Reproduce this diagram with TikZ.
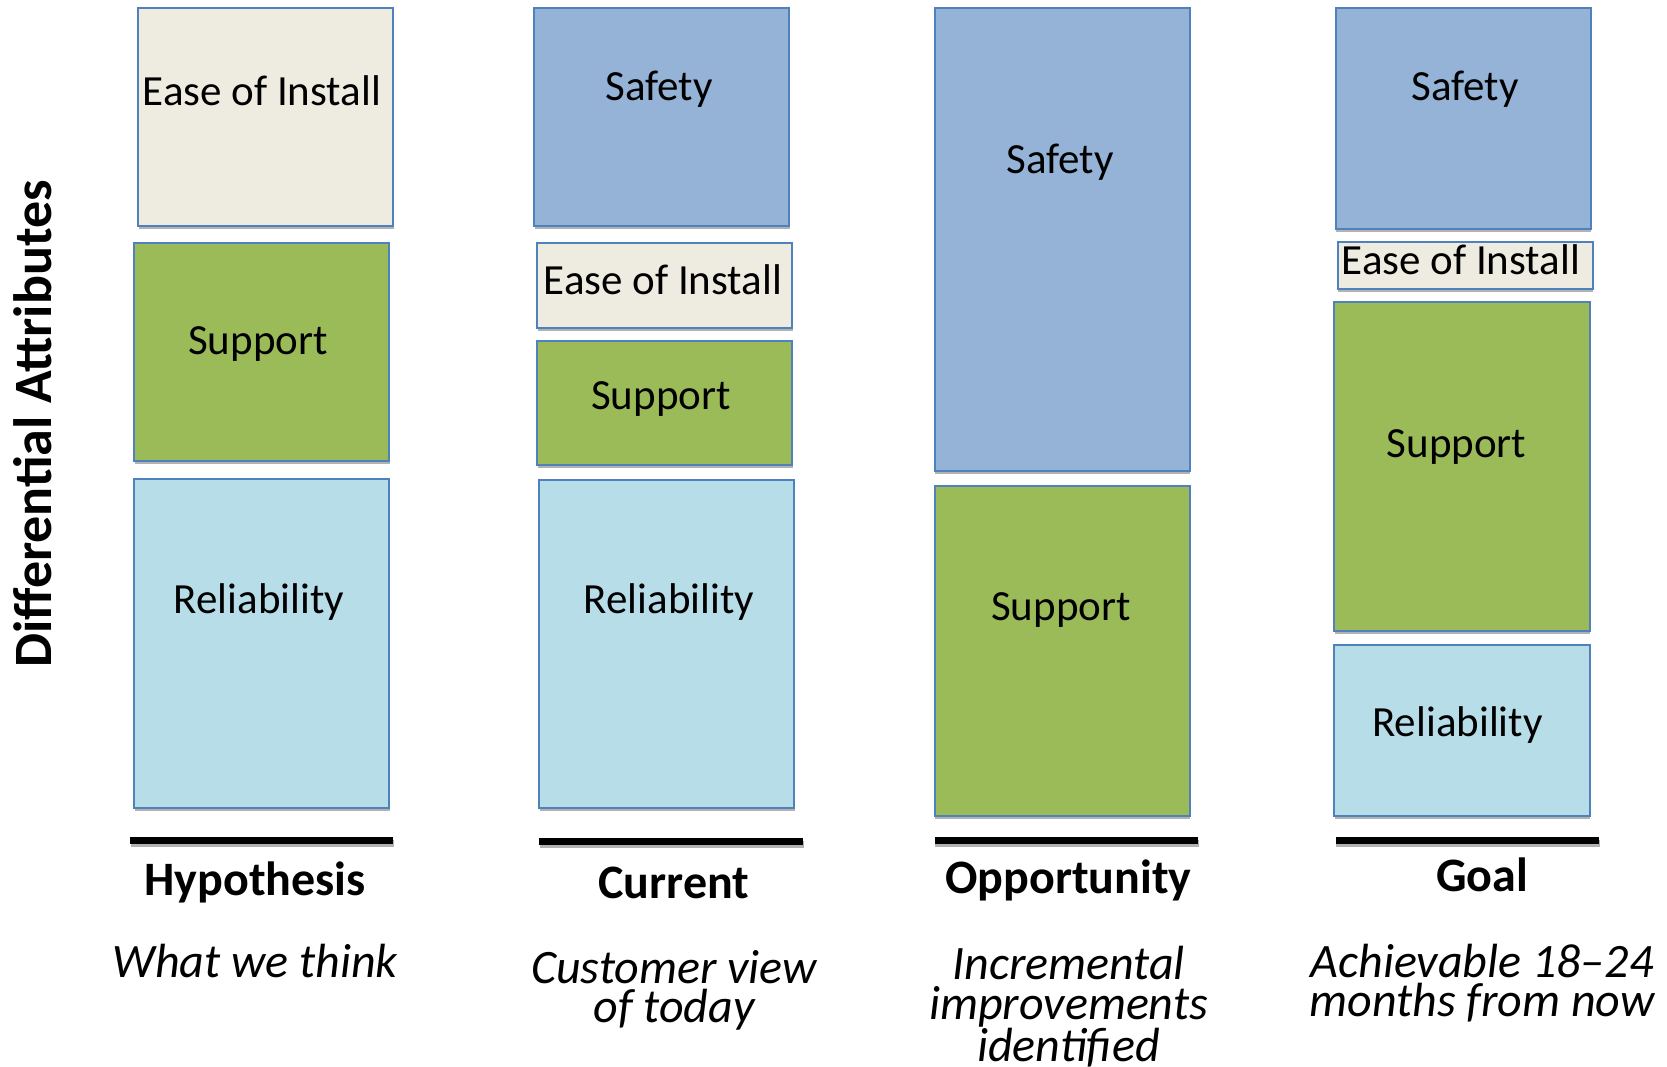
\documentclass[tikz,border=0pt]{standalone}
\usepackage{fontspec}
\setmainfont{Carlito}
\usetikzlibrary{shadows,fit}
\definecolor{edgeblue}{HTML}{4F81BD}
\definecolor{easefill}{HTML}{EEECE1}
\definecolor{safetyfill}{HTML}{95B3D7}
\definecolor{supportfill}{HTML}{9BBB59}
\definecolor{relfill}{HTML}{B7DDE8}
\begin{document}
\begin{tikzpicture}[x=1pt,y=-1pt,
  attrbox/.style={draw=edgeblue, line width=2pt, inner sep=0pt, outer sep=0pt,
    drop shadow={shadow xshift=0.5pt, shadow yshift=-3pt, opacity=0.3, fill=black}},
  ease/.style={attrbox, fill=easefill},
  safety/.style={attrbox, fill=safetyfill},
  support/.style={attrbox, fill=supportfill},
  rel/.style={attrbox, fill=relfill},
  basebar/.style={fill=black, inner sep=0pt, outer sep=0pt,
    drop shadow={shadow xshift=0.5pt, shadow yshift=-3pt, opacity=0.3, fill=black}},
  boxtext/.style={font=\fontsize{43}{50}\selectfont, anchor=base, inner sep=0pt},
  headtext/.style={font=\fontsize{48}{58}\selectfont\bfseries, anchor=base, inner sep=0pt},
  % multi-line captions: the base anchor sits on the last line
  subtext/.style={font=\fontsize{48}{39.5}\selectfont\itshape, anchor=base, inner sep=0pt, align=center},
  axistext/.style={font=\fontsize{54}{60}\selectfont\bfseries, anchor=base, inner sep=0pt, rotate=90}]
\useasboundingbox (0,0) rectangle (1667,1067);

% axis title
\node[axistext] (axis) at (51,424) {Differential Attributes};

% --- Hypothesis column ---
\node[ease, fit={(138,8.5)(393,226.5)}] (h-ease) {};
\node[support, fit={(134,243.5)(389,460.5)}] (h-sup) {};
\node[rel, fit={(134,478.5)(389,808)}] (h-rel) {};
\node[boxtext] (h-ease-t) at (262,105.5) {Ease of Install};
\node[boxtext] (h-sup-t) at (258,354) {Support};
\node[boxtext] (h-rel-t) at (259,613.5) {Reliability};
\node[basebar, fit={(130,836.7)(393,844)}] (h-bar) {};
\node[headtext] (h-head) at (255,895) {Hypothesis};
\node[subtext] (h-sub) at (255,977) {What we think};

% --- Current column ---
\node[safety, fit={(534,8.5)(789,226.5)}] (c-safe) {};
\node[ease, fit={(537,243.5)(792,327.5)}] (c-ease) {};
\node[support, fit={(537,340.5)(792,464.5)}] (c-sup) {};
\node[rel, fit={(539,479.5)(794,808)}] (c-rel) {};
\node[boxtext] (c-safe-t) at (659,101) {Safety};
\node[boxtext] (c-ease-t) at (663,294.5) {Ease of Install};
\node[boxtext] (c-sup-t) at (661,409.5) {Support};
\node[boxtext] (c-rel-t) at (669,613) {Reliability};
\node[basebar, fit={(539,837.7)(803,845)}] (c-bar) {};
\node[headtext] (c-head) at (674,898) {Current};
\node[subtext] (c-sub) at (674,1022.5) {Customer view\\of today};

% --- Opportunity column ---
\node[safety, fit={(934.5,8.5)(1189.5,471)}] (o-safe) {};
\node[support, fit={(934.5,486)(1189.5,815.5)}] (o-sup) {};
\node[boxtext] (o-safe-t) at (1060,173.5) {Safety};
\node[boxtext] (o-sup-t) at (1061,620) {Support};
\node[basebar, fit={(934.5,837)(1198,844.3)}] (o-bar) {};
\node[headtext] (o-head) at (1068.5,893) {Opportunity};
\node[subtext] (o-sub) at (1068.5,1061.5) {Incremental\\improvements\\identified};

% --- Goal column ---
\node[safety, fit={(1335.5,8.5)(1590.5,229.5)}] (g-safe) {};
\node[ease, fit={(1337.5,242.5)(1592.5,289)}] (g-ease) {};
\node[support, fit={(1334,302)(1589.5,630.5)}] (g-sup) {};
\node[rel, fit={(1334,644.5)(1589.5,815.5)}] (g-rel) {};
\node[boxtext] (g-safe-t) at (1465,101) {Safety};
\node[boxtext] (g-ease-t) at (1461,274.5) {Ease of Install};
\node[boxtext] (g-sup-t) at (1456.5,457) {Support};
\node[boxtext] (g-rel-t) at (1457.5,736) {Reliability};
\node[basebar, fit={(1335.5,837)(1599,844.3)}] (g-bar) {};
\node[headtext] (g-head) at (1482,891.5) {Goal};
\node[subtext] (g-sub) at (1482,1016.5) {Achievable 18–24\\months from now};
\end{tikzpicture}
\end{document}
